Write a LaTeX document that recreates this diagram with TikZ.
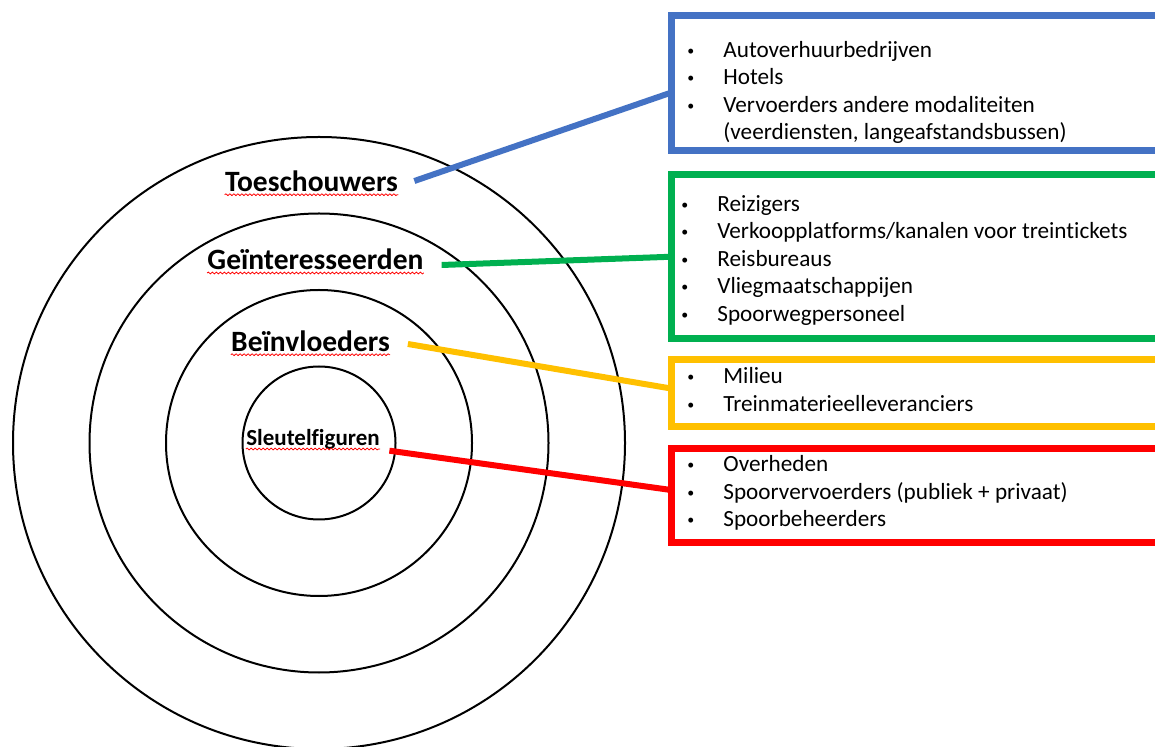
\documentclass[tikz,border=0pt]{standalone}
\usepackage{fontspec}
\setmainfont{Carlito}[Ligatures={NoCommon}]
\usepackage{tikz}
\usetikzlibrary{decorations.pathmorphing}

\definecolor{ringblue}{HTML}{4472C4}
\definecolor{ringgreen}{HTML}{00B050}
\definecolor{ringyellow}{HTML}{FFC000}
\definecolor{ringred}{HTML}{FF0000}

\newcommand{\bul}{\raisebox{1pt}{\scalebox{0.6}{\textbullet}}}

\begin{document}
\begin{tikzpicture}[x=0.5pt,y=-0.5pt,
    ring/.style={draw=black, line width=1pt},
    ringlabel/.style={font=\bfseries\fontsize{14.75}{17}\selectfont, inner sep=0pt, anchor=base},
    listbox/.style={line width=3.5pt, outer sep=0pt, inner sep=0pt, anchor=north west, minimum width=260pt},
    items/.style={font=\fontsize{11.6}{13.75}\selectfont, inner sep=0pt, anchor=base west},
    link/.style={line width=3pt},
    spell/.style={draw=red, line width=0.4pt, decorate, decoration={snake, amplitude=0.45pt, segment length=2pt}}]
      \useasboundingbox (0,0) rectangle (1155,747);
      \clip (0,0) rectangle (1155,747);

      % Draw the rings
      \coordinate (ctr) at (319,443);
      \foreach \r in {38.25pt,76.5pt,114.75pt,153pt}
        \draw[ring] (ctr) circle[radius=\r];

      % Ring labels
      \node[ringlabel] (lbT) at (311.5,191.7) {Toeschouwers};
      \node[ringlabel] (lbG) at (315.5,270) {Geïnteresseerden};
      \node[ringlabel] (lbB) at (310.5,351.7) {Beïnvloeders};
      \node[ringlabel, font=\bfseries\fontsize{11.5}{13}\selectfont] (lbS) at (313,446) {Sleutelfiguren};

      % Spelling marks under the labels
      \foreach \n in {lbT,lbG,lbB,lbS}
        \draw[spell] ([yshift=-1.5pt]\n.base west) -- ([yshift=-1.5pt]\n.base east);

      % Draw the boxes
      \node[listbox, draw=ringblue, minimum height=67.75pt] (bxT) at (671,15.5) {};
      \node[listbox, draw=ringgreen, minimum height=81.75pt] (bxG) at (671,175) {};
      \node[listbox, draw=ringyellow, minimum height=33.5pt] (bxB) at (671,360) {};
      \node[listbox, draw=ringred, minimum height=47pt] (bxS) at (671,449) {};

      % Connect the labels to the boxes
      \draw[link, ringblue] ([xshift=8pt,yshift=5.35pt]lbT.base east) -- ([yshift=-4.7pt]bxT.west);
      \draw[link, ringgreen] ([xshift=8.85pt,yshift=2.5pt]lbG.base east) -- (bxG.west);
      \draw[link, ringyellow] ([xshift=8.85pt,yshift=3.85pt]lbB.base east) -- ([yshift=2.5pt]bxB.west);
      \draw[link, ringred] ([xshift=4.65pt,yshift=-2.35pt]lbS.base east) -- ([yshift=3pt]bxS.west);

      % Lists in the boxes
      \node[items] (lsT) at (687,57.5) {\begin{tabular}[t]{@{}p{18pt}@{}l@{}}
          \bul & Autoverhuurbedrijven\\
          \bul & Hotels\\
          \bul & Vervoerders andere modaliteiten\\
               & (veerdiensten, langeafstandsbussen)
        \end{tabular}};
      \node[items] (lsG) at (681,211.5) {\begin{tabular}[t]{@{}p{18pt}@{}l@{}}
          \bul & Reizigers\\
          \bul & Verkoopplatforms/kanalen voor treintickets\\
          \bul & Reisbureaus\\
          \bul & Vliegmaatschappijen\\
          \bul & Spoorwegpersoneel
        \end{tabular}};
      \node[items] (lsB) at (687,384) {\begin{tabular}[t]{@{}p{18pt}@{}l@{}}
          \bul & Milieu\\
          \bul & Treinmaterieelleveranciers
        \end{tabular}};
      \node[items] (lsS) at (687,471.7) {\begin{tabular}[t]{@{}p{18pt}@{}l@{}}
          \bul & Overheden\\
          \bul & Spoorvervoerders (publiek + privaat)\\
          \bul & Spoorbeheerders
        \end{tabular}};
\end{tikzpicture}
\end{document}
